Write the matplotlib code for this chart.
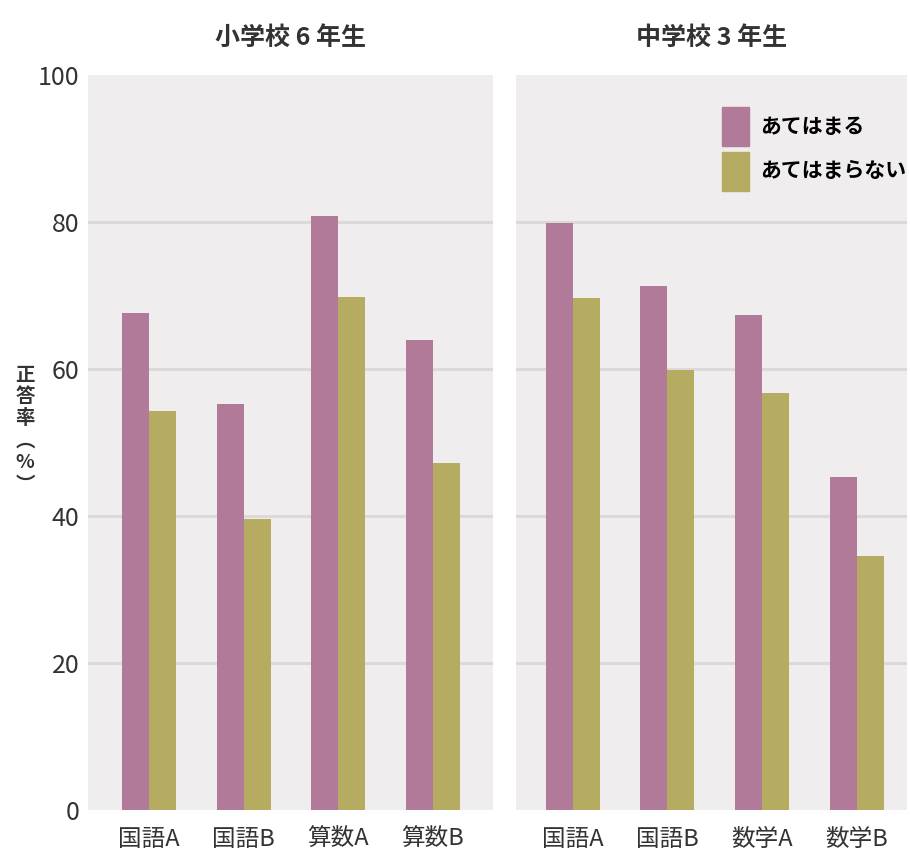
import numpy as np
import matplotlib.pyplot as plt
from matplotlib.patches import Patch

plt.rcParams['font.family'] = ['Noto Sans CJK JP', 'DejaVu Sans']

# data (正答率 %)
elem_subjects = ["国語A", "国語B", "算数A", "算数B"]
elem_yes = [67.6, 55.2, 80.8, 63.9]
elem_no = [54.3, 39.6, 69.8, 47.2]

mid_subjects = ["国語A", "国語B", "数学A", "数学B"]
mid_yes = [79.9, 71.3, 67.3, 45.3]
mid_no = [69.7, 59.9, 56.7, 34.6]

panel_titles = ["小学校 6 年生", "中学校 3 年生"]
series_labels = ["あてはまる", "あてはまらない"]
y_ticks = [0, 20, 40, 60, 80, 100]

PINK = "#b07a98"
OLIVE = "#b5ac62"
BG = "#efedee"
GRIDC = "#dcd9da"
TXT = "#333333"

fig = plt.figure(figsize=(9.1, 8.67), dpi=100)
ax1 = fig.add_axes([88 / 910, 57 / 867, 405 / 910, 735 / 867])
ax2 = fig.add_axes([516 / 910, 57 / 867, 391 / 910, 735 / 867])

w = 0.285
panels = [
    (ax1, elem_subjects, elem_yes, elem_no, (-0.644, 3.634)),
    (ax2, mid_subjects, mid_yes, mid_no, (-0.60, 3.53)),
]

for i, (ax, subj, yes, no, xl) in enumerate(panels):
    x = np.arange(len(subj))
    ax.set_facecolor(BG)
    for yv in y_ticks[1:-1]:
        ax.axhline(yv, color=GRIDC, lw=2.2, zorder=1)
    ax.bar(x - w / 2, yes, width=w, color=PINK, zorder=2, label=series_labels[0])
    ax.bar(x + w / 2, no, width=w, color=OLIVE, zorder=2, label=series_labels[1])
    ax.set_xlim(*xl)
    ax.set_ylim(0, 100)
    for s in ax.spines.values():
        s.set_visible(False)
    ax.set_xticks(x)
    ax.set_xticklabels(subj, fontsize=17, color=TXT)
    ax.tick_params(axis='x', length=0, pad=13)
    ax.set_title(panel_titles[i], fontsize=18, fontweight='bold', color=TXT, pad=22)
    if i == 0:
        ax.set_yticks(y_ticks)
        ax.set_yticklabels([str(t) for t in y_ticks], fontsize=18, color=TXT)
        ax.tick_params(axis='y', length=0, pad=6)
    else:
        ax.set_yticks([])

# vertical y label
fig.text(25 / 910, 1 - 430 / 867, "正\n答\n率\n︵\n%\n︶", fontsize=14, fontweight='bold',
         color=TXT, ha='center', va='center', linespacing=1.2)

handles = [Patch(color=PINK), Patch(color=OLIVE)]
ax2.legend(handles, series_labels, loc='upper left', bbox_to_anchor=(0.50, 0.97),
           frameon=False, handlelength=1.3, handleheight=2.5,
           handletextpad=0.55, labelspacing=0.25, borderpad=0,
           prop={'weight': 'bold', 'size': 15})

fig.savefig("out.png", dpi=100)
